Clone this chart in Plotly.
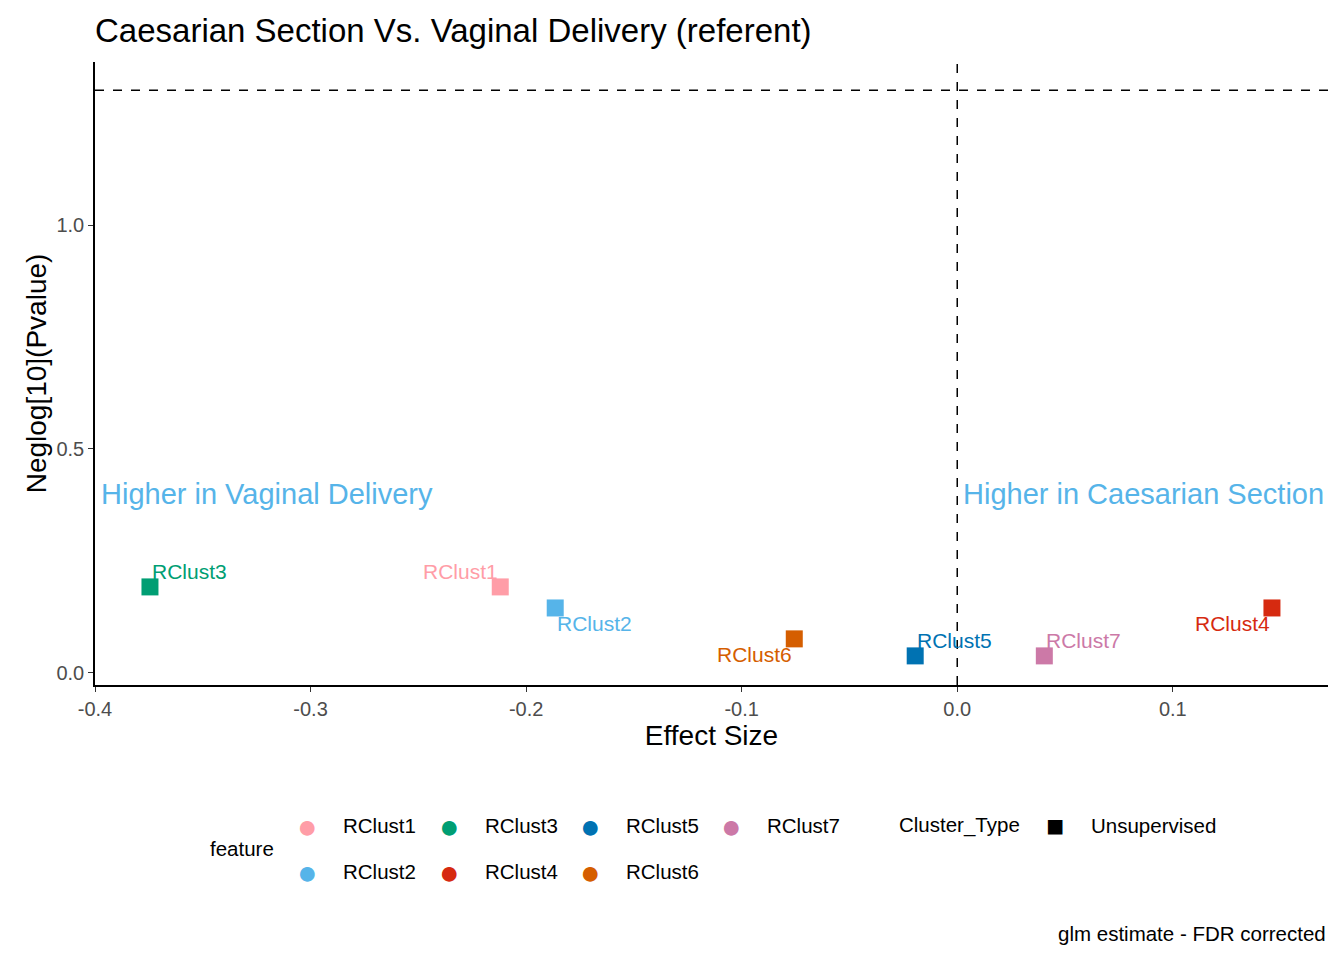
import plotly.graph_objects as go

# data
features = ["RClust1", "RClust2", "RClust3", "RClust4", "RClust5", "RClust6", "RClust7"]
effect = [-0.212, -0.1865, -0.3745, 0.146, -0.0195, -0.0756, 0.0404]
neglogp = [0.192, 0.145, 0.192, 0.145, 0.038, 0.076, 0.038]
colors = ["#FF9DA7", "#56B4E9", "#009E73", "#D62A10", "#0072B2", "#D55E00", "#CC79A7"]
# label placement relative to point (xanchor, yanchor)
label_pos = [("right", "bottom"), ("left", "top"), ("left", "bottom"), ("right", "top"),
             ("left", "bottom"), ("right", "top"), ("left", "bottom")]
sig_line = 1.301

OFF = 8  # page body margin
W, H = 1344, 960
L, R, T, B = 95 - OFF, 16 + OFF, 62 - OFF, 275 + OFF
pw, ph = W - L - R, H - T - B


def px(x, y):
    # screen pixel -> paper coords
    x, y = x - OFF, y - OFF
    return (x - L) / pw, (H - B - y) / ph


FONT = "Arial"
fig = go.Figure()
for f, x, y, c in zip(features, effect, neglogp, colors):
    fig.add_trace(go.Scatter(x=[x], y=[y], mode="markers", name=f, showlegend=False,
                             marker=dict(symbol="square", size=17, color=c)))

annots = []
for f, x, y, c, (xa, ya) in zip(features, effect, neglogp, colors, label_pos):
    annots.append(dict(x=x, y=y, text=f, showarrow=False, xanchor=xa, yanchor=ya,
                       yshift=-2 if ya == "top" else 2,
                       font=dict(size=21, color=c, family=FONT)))

annots.append(dict(x=-0.4, y=0.4, text="Higher in Vaginal Delivery", showarrow=False,
                   xanchor="left", xshift=4, font=dict(size=29, color="#56B4E9", family=FONT)))
annots.append(dict(x=0.0, y=0.4, text="Higher in Caesarian Section", showarrow=False,
                   xanchor="left", xshift=4, font=dict(size=29, color="#56B4E9", family=FONT)))

# legend drawn manually
leg = [("RClust1", 0), ("RClust3", 2), ("RClust5", 4), ("RClust7", 6),
       ("RClust2", 1), ("RClust4", 3), ("RClust6", 5)]
cols_x = [307, 449, 590, 731]
LEGF = dict(size=20.5, color="black", family=FONT)
for i, (name, ci) in enumerate(leg):
    row = 0 if i < 4 else 1
    col = i if i < 4 else i - 4
    xp, yp = px(cols_x[col], 825 if row == 0 else 871)
    annots.append(dict(xref="paper", yref="paper", x=xp, y=yp, text="●", showarrow=False,
                       font=dict(size=34, color=colors[ci]), xanchor="center", yanchor="middle"))
    xp2, _ = px(cols_x[col] + 34, 0)
    annots.append(dict(xref="paper", yref="paper", x=xp2, y=yp, text=name, showarrow=False,
                       font=LEGF, xanchor="left", yanchor="middle"))
xp, yp = px(208, 848)
annots.append(dict(xref="paper", yref="paper", x=xp, y=yp, text="feature", showarrow=False,
                   font=LEGF, xanchor="left", yanchor="middle"))
xp, yp = px(897, 825)
annots.append(dict(xref="paper", yref="paper", x=xp, y=yp, text="Cluster_Type", showarrow=False,
                   font=LEGF, xanchor="left", yanchor="middle"))
xp, yp = px(1055, 824)
annots.append(dict(xref="paper", yref="paper", x=xp, y=yp, text="■", showarrow=False,
                   font=dict(size=30, color="black"), xanchor="center", yanchor="middle"))
xp, yp = px(1089, 825)
annots.append(dict(xref="paper", yref="paper", x=xp, y=yp, text="Unsupervised", showarrow=False,
                   font=LEGF, xanchor="left", yanchor="middle"))
xp, yp = px(1328, 933)
annots.append(dict(xref="paper", yref="paper", x=xp, y=yp, text="glm estimate - FDR corrected",
                   showarrow=False, font=LEGF, xanchor="right", yanchor="middle"))

fig.add_hline(y=sig_line, line=dict(color="black", width=1.5, dash="dash"))
fig.add_vline(x=0, line=dict(color="black", width=1.5, dash="dash"))

axis_common = dict(showgrid=False, zeroline=False, showline=True, linecolor="black", linewidth=1.5,
                   ticks="outside", ticklen=5, tickcolor="#333333",
                   tickfont=dict(size=20, color="#4D4D4D", family=FONT))
fig.update_layout(
    width=W, height=H, plot_bgcolor="white", paper_bgcolor="white",
    margin=dict(l=L, r=R, t=T, b=B),
    title=dict(text="Caesarian Section Vs. Vaginal Delivery (referent)", x=(95 - OFF) / W, xanchor="left",
               y=1 - (30 - OFF) / H, yanchor="middle", font=dict(size=33, color="black", family=FONT)),
    xaxis=dict(range=[-0.4, 0.172], tickvals=[-0.4, -0.3, -0.2, -0.1, 0.0, 0.1],
               ticktext=["-0.4", "-0.3", "-0.2", "-0.1", "0.0", "0.1"],
               title=dict(text="Effect Size", font=dict(size=28, color="black", family=FONT), standoff=4),
               **axis_common),
    yaxis=dict(range=[-0.027, 1.364], tickvals=[0, 0.5, 1.0], ticktext=["0.0", "0.5", "1.0"],
               title=dict(text="Neglog[10](Pvalue)", font=dict(size=28, color="black", family=FONT), standoff=2),
               **axis_common),
    annotations=annots,
)
fig.write_html("out.html")
